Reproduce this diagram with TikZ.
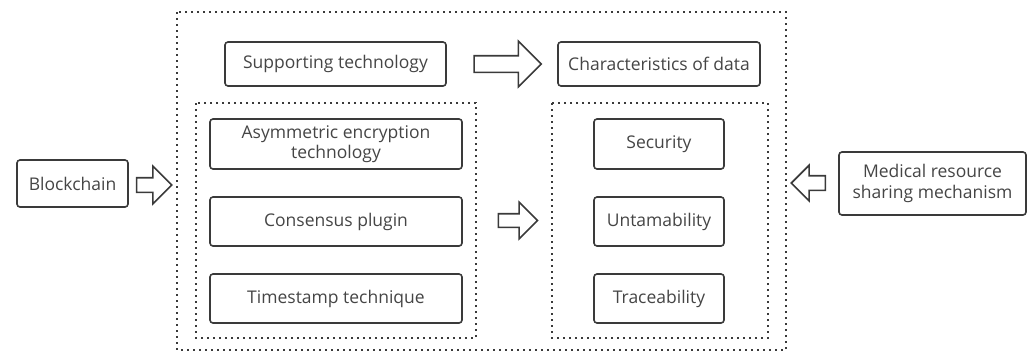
\documentclass[tikz,border=0pt]{standalone}
\usepackage{fontspec}
\setmainfont{Open Sans}
\usetikzlibrary{shapes.arrows}
\definecolor{ink}{HTML}{3A3A3A}
\definecolor{txt}{HTML}{454545}
\tikzset{
  box/.style={draw=ink, line width=1.6pt, rounded corners=3pt, align=center, text=txt, font=\fontsize{17.5}{20.5}\selectfont, inner sep=0pt},
  dotbox/.style={draw=ink, line width=1.8pt, dash pattern=on 1.8pt off 4.2pt},
  barrow/.style={single arrow, draw=ink, line width=1.6pt, single arrow head indent=0pt, inner sep=0pt, anchor=center},
}
\begin{document}
\begin{tikzpicture}[x=1pt,y=-1pt]
\useasboundingbox (0,0) rectangle (1032,354);
% frames
\draw[dotbox] (177,12) rectangle (786,350);
\draw[dotbox] (196,103) rectangle (476,338);
\draw[dotbox] (552,103) rectangle (768,338);
% top row
\node[box, minimum width=221pt, minimum height=44pt] (sup) at (335.5,64) {Supporting technology};
\node[box, minimum width=202pt, minimum height=44pt] (chr) at (659,64) {Characteristics of data};
\node[barrow, minimum height=67pt, minimum width=44pt, text width=0pt, text height=15pt, text depth=0pt, single arrow head extend=14.5pt] (a1) at (503.5,64) {};
% left column
\node[box, minimum width=252pt, minimum height=50pt] (asy) at (336,144) {Asymmetric encryption\\technology};
\node[box, minimum width=252pt, minimum height=49pt] (con) at (336,221.5) {Consensus plugin};
\node[box, minimum width=252pt, minimum height=49pt] (tim) at (336,298.5) {Timestamp technique};
% right column
\node[box, minimum width=130pt, minimum height=50pt] (sec) at (659,144) {Security};
\node[box, minimum width=130pt, minimum height=49pt] (unt) at (659,221.5) {Untamability};
\node[box, minimum width=130pt, minimum height=49pt] (tra) at (659,298.5) {Traceability};
\node[barrow, minimum height=39pt, minimum width=35pt, text width=0pt, text height=12pt, text depth=0pt, single arrow head extend=11.5pt] (a2) at (514.5,220.5) {};
% outside
\node[box, minimum width=111pt, minimum height=47pt] (blk) at (72.5,183.5) {Blockchain};
\node[barrow, minimum height=35pt, minimum width=36pt, text width=0pt, text height=13pt, text depth=0pt, single arrow head extend=11.5pt] (a3) at (150.5,185) {};
\node[box, minimum width=187pt, minimum height=63pt] (med) at (932.5,183.5) {Medical resource\\sharing mechanism};
\node[barrow, shape border rotate=180, minimum height=34pt, minimum width=34pt, text width=0pt, text height=13pt, text depth=0pt, single arrow head extend=10.5pt] (a4) at (812,183) {};
\end{tikzpicture}
\end{document}
